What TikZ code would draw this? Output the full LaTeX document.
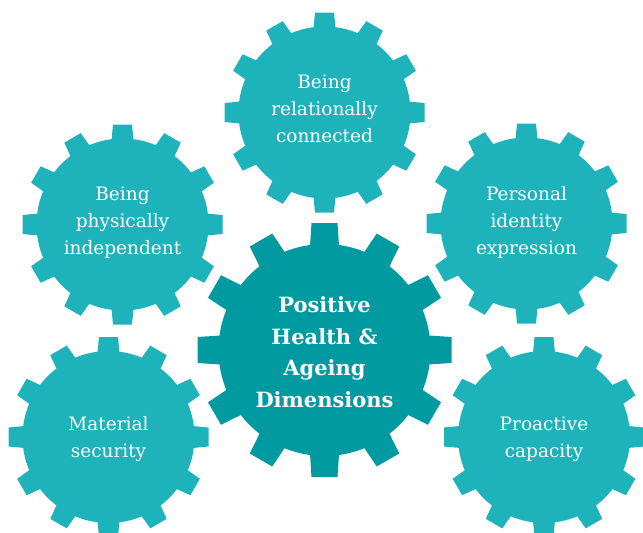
\documentclass[tikz,border=0pt]{standalone}
\usepackage{fontspec}
\setmainfont{DejaVu Serif}
\definecolor{gearlight}{RGB}{30,178,187}
\definecolor{geardark}{RGB}{0,154,160}
\tikzset{
  pics/smallgear/.style={code={
    \fill[gearlight] (0,0) circle[radius=86pt];
    \foreach \a in {0,30,...,330}{
      \fill[gearlight, rotate=\a] (84,-11) -- (100,-9.5) -- (100,9.5) -- (84,11) -- cycle;
    }
  }},
  pics/biggear/.style={code={
    \fill[geardark] (0,0) circle[radius=106pt];
    \foreach \a in {0,30,...,330}{
      \fill[geardark, rotate=\a] (104,-14.5) -- (127,-13) -- (127,13) -- (104,14.5) -- cycle;
    }
  }},
  smalltext/.style={text=white, align=center, font=\fontsize{18.5}{27}\selectfont, inner sep=0pt},
  bigtext/.style={text=white, align=center, font=\fontsize{21}{31.5}\selectfont\bfseries, inner sep=0pt}
}
\begin{document}
\begin{tikzpicture}[x=1pt,y=-1pt]
\useasboundingbox (0,0) rectangle (643,533);
\pic at (324.5,112.5) {smallgear};
\pic at (122.5,224.5) {smallgear};
\pic at (526.5,223.5) {smallgear};
\pic at (108.5,437) {smallgear};
\pic at (544,437) {smallgear};
\pic at (324.5,350) {biggear};
\node[smalltext] (rel) at (324.5,109) {Being\\relationally\\connected};
\node[smalltext] (phys) at (122.5,223) {Being\\physically\\independent};
\node[smalltext] (pers) at (526.5,222) {Personal\\identity\\expression};
\node[smalltext] (mat) at (108.5,439) {Material\\security};
\node[smalltext] (pro) at (544,439) {Proactive\\capacity};
\node[bigtext] (core) at (324.5,352) {Positive\\Health \&\\Ageing\\Dimensions};
\end{tikzpicture}
\end{document}
